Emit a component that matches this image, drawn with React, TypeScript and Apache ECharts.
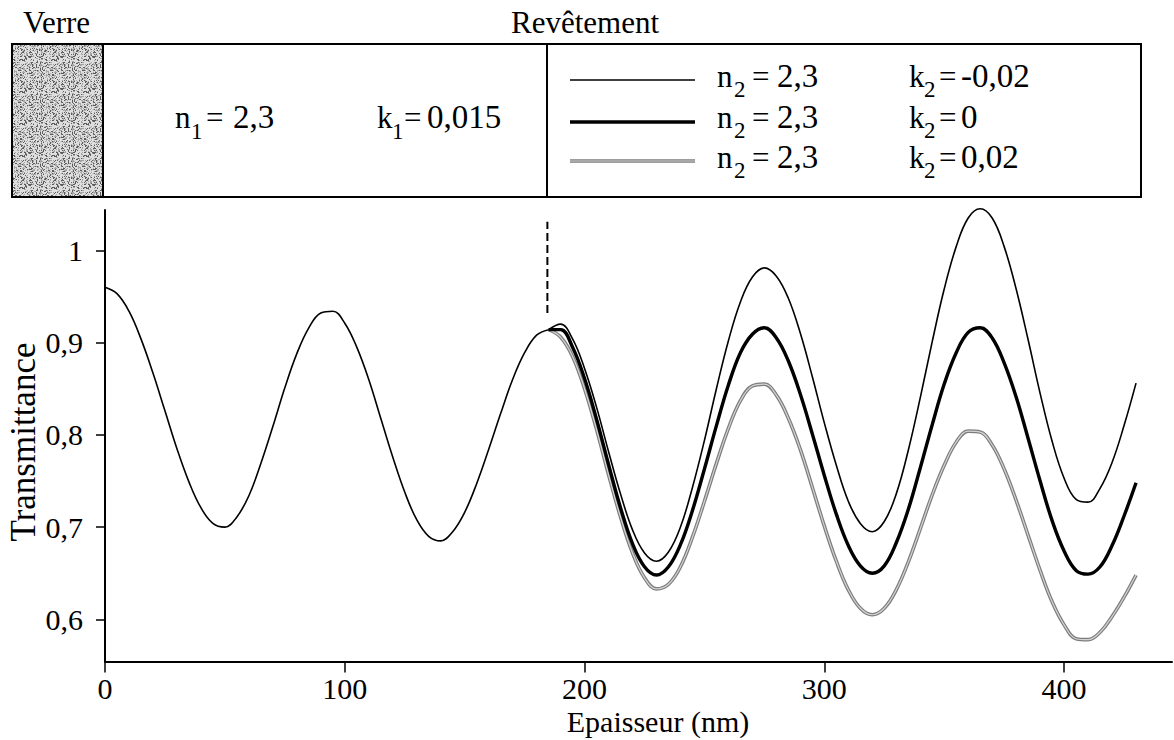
import React, { useEffect, useRef } from "react";
import * as echarts from "echarts";

const FONT = "Liberation Serif";

// ---- data ----
const baseThickness = [0, 5, 10, 15, 20, 25, 30, 35, 40, 45, 50, 55, 60, 65, 70, 75, 80, 85, 90, 95, 100, 105, 110, 115, 120, 125, 130, 135, 140, 145, 150, 155, 160, 165, 170, 175, 180, 185];
const baseT = [0.960, 0.953, 0.934, 0.904, 0.867, 0.826, 0.785, 0.749, 0.721, 0.704, 0.700, 0.711, 0.734, 0.769, 0.809, 0.851, 0.888, 0.916, 0.932, 0.934, 0.921, 0.895, 0.860, 0.818, 0.776, 0.738, 0.708, 0.690, 0.685, 0.695, 0.716, 0.747, 0.784, 0.823, 0.860, 0.889, 0.908, 0.914];

const branchThickness = [185, 190, 195, 200, 205, 210, 215, 220, 225, 230, 235, 240, 245, 250, 255, 260, 265, 270, 275, 280, 285, 290, 295, 300, 305, 310, 315, 320, 325, 330, 335, 340, 345, 350, 355, 360, 365, 370, 375, 380, 385, 390, 395, 400, 405, 410, 415, 420, 425, 430];
// k2 = -0,02
const tKminus = [0.914, 0.920, 0.904, 0.872, 0.830, 0.782, 0.736, 0.697, 0.672, 0.663, 0.673, 0.700, 0.743, 0.794, 0.850, 0.902, 0.944, 0.971, 0.981, 0.972, 0.948, 0.910, 0.863, 0.813, 0.767, 0.728, 0.704, 0.695, 0.706, 0.736, 0.783, 0.840, 0.901, 0.958, 1.004, 1.035, 1.045, 1.035, 1.004, 0.958, 0.903, 0.845, 0.793, 0.753, 0.730, 0.727, 0.742, 0.770, 0.810, 0.856];
// k2 = 0
const tKzero = [0.914, 0.914, 0.895, 0.861, 0.817, 0.768, 0.721, 0.682, 0.657, 0.648, 0.657, 0.681, 0.718, 0.763, 0.810, 0.854, 0.889, 0.909, 0.916, 0.905, 0.880, 0.844, 0.801, 0.756, 0.714, 0.680, 0.658, 0.650, 0.658, 0.683, 0.719, 0.764, 0.811, 0.855, 0.889, 0.911, 0.916, 0.905, 0.878, 0.841, 0.796, 0.750, 0.707, 0.674, 0.653, 0.649, 0.657, 0.680, 0.712, 0.748];
// k2 = 0,02
const tKplus = [0.914, 0.906, 0.885, 0.850, 0.806, 0.757, 0.711, 0.672, 0.645, 0.633, 0.638, 0.657, 0.689, 0.728, 0.769, 0.807, 0.837, 0.853, 0.855, 0.843, 0.818, 0.784, 0.743, 0.701, 0.663, 0.632, 0.612, 0.605, 0.612, 0.632, 0.662, 0.698, 0.735, 0.767, 0.792, 0.804, 0.803, 0.789, 0.763, 0.729, 0.691, 0.653, 0.619, 0.594, 0.579, 0.578, 0.586, 0.603, 0.624, 0.648];

const dashThickness = [184.5, 184.5];
const dashT = [0.932, 1.031];

const xTicks = [0, 100, 200, 300, 400];
const yTicks = [0.6, 0.7, 0.8, 0.9, 1];

const headerLeft = "Verre";
const headerRight = "Revêtement";
const xTitle = "Epaisseur (nm)";
const yTitle = "Transmittance";
const legendN = ["2,3", "2,3", "2,3"];
const legendK = ["-0,02", "0", "0,02"];

const pairs = (xs: number[], ys: number[]) => xs.map((x, i) => [x, ys[i]]);

const txt = (text: string, x: number, baseline: number, size: number, align: string = "left") => ({
  type: "text",
  x,
  y: baseline - 0.3375 * size,
  silent: true,
  style: {
    text,
    x: 0,
    y: 0,
    font: `${size}px ${FONT}`,
    lineHeight: Math.round(size * 0.85),
    fill: "#000",
    align,
    verticalAlign: "middle",
    textAlign: align,
    textVerticalAlign: "middle",
  },
});

const hline = (x1: number, x2: number, y: number, color: string, w: number) => ({
  type: "line",
  silent: true,
  shape: { x1, y1: y, x2, y2: y },
  style: { stroke: color, lineWidth: w },
});

// decorative speckled texture for the glass block
const makeTexture = () => {
  const c = document.createElement("canvas");
  c.width = 32;
  c.height = 32;
  const g = c.getContext("2d");
  if (!g) return null;
  g.fillStyle = "#dedede";
  g.fillRect(0, 0, 32, 32);
  for (let y = 0; y < 32; y++) {
    for (let x = 0; x < 32; x++) {
      const h = (((x * 73856093) ^ (y * 19349663) ^ ((x + y) * 83492791)) >>> 0) % 1000;
      if (h < 180) {
        g.fillStyle = "#5c5c5c";
        g.fillRect(x, y, 1, 1);
      } else if (h < 390) {
        g.fillStyle = "#a6a6a6";
        g.fillRect(x, y, 1, 1);
      }
    }
  }
  return c;
};

export default function App() {
  const ref = useRef<HTMLDivElement>(null);

  useEffect(() => {
    if (!ref.current) return;
    const chart = echarts.init(ref.current, undefined, { renderer: "svg" });

    const S = 30; // axis text size
    const H = 31; // header text size
    const V = 33; // header value size
    const SUB = 23; // subscript size

    const tex = makeTexture();

    const graphic: any[] = [
      txt(headerLeft, 23, 33, H),
      txt(headerRight, 585, 33, H, "center"),
      {
        type: "rect",
        silent: true,
        shape: { x: 12, y: 44, width: 91, height: 153 },
        style: { fill: "#bdbdbd", stroke: "#000", lineWidth: 2 },
      },
    ];
    if (tex) {
      graphic.push({
        type: "rect",
        silent: true,
        shape: { x: 13, y: 45, width: 89, height: 151 },
        style: { fill: { image: tex, repeat: "repeat" } as any, stroke: "none" },
      });
    }
    graphic.push(
      {
        type: "rect",
        silent: true,
        shape: { x: 12, y: 44, width: 1129, height: 153 },
        style: { fill: "none", stroke: "#000", lineWidth: 2 },
      },
      {
        type: "line",
        silent: true,
        shape: { x1: 103, y1: 44, x2: 103, y2: 197 },
        style: { stroke: "#000", lineWidth: 2 },
      },
      {
        type: "line",
        silent: true,
        shape: { x1: 547, y1: 44, x2: 547, y2: 197 },
        style: { stroke: "#000", lineWidth: 2 },
      },
      // n1 = 2,3   k1 = 0,015
      txt("n", 175, 128, H),
      txt("1", 191, 139, SUB),
      txt("=", 206, 128, H),
      txt("2,3", 233, 128, V),
      txt("k", 377, 128, H),
      txt("1", 392, 139, SUB),
      txt("=", 404, 128, H),
      txt("0,015", 427, 128, V),
      // legend line samples
      hline(570, 695, 80, "#000", 1.6),
      hline(570, 695, 122, "#000", 3.4),
      hline(570, 695, 161, "#7d7d7d", 3.6),
      hline(570, 695, 161, "#d4d4d4", 1.2)
    );
    const baselines = [87, 128, 168];
    baselines.forEach((b, i) => {
      graphic.push(txt("n", 717, b, H));
      graphic.push(txt("2", 734, b + 10, SUB));
      graphic.push(txt("=", 752, b, H));
      graphic.push(txt(legendN[i], 777, b, V));
      graphic.push(txt("k", 909, b, H));
      graphic.push(txt("2", 924, b + 10, SUB));
      graphic.push(txt("=", 939, b, H));
      graphic.push(txt(legendK[i], 961, b, V));
    });
    graphic.push(txt(xTitle, 658, 732, S, "center"));
    graphic.push({
      type: "text",
      x: 23,
      y: 442,
      rotation: Math.PI / 2,
      silent: true,
      style: {
        text: yTitle,
        x: 0,
        y: 0,
        font: `35px ${FONT}`,
        fill: "#000",
        align: "center",
        verticalAlign: "middle",
        textAlign: "center",
        textVerticalAlign: "middle",
      },
    });

    const lineBase = {
      type: "line",
      showSymbol: false,
      symbol: "none",
      smooth: 0.4,
      silent: true,
      clip: false,
    };

    const option: any = {
      animation: false,
      backgroundColor: "#fff",
      textStyle: { fontFamily: FONT },
      grid: { left: 105, right: 2, top: 210, bottom: 78.5, containLabel: false },
      xAxis: {
        type: "value",
        min: 0,
        max: 445,
        axisLine: { show: true, lineStyle: { color: "#000", width: 2 } },
        axisTick: { show: true, length: 11, customValues: xTicks, lineStyle: { color: "#000", width: 1.5 } },
        axisLabel: {
          customValues: xTicks,
          color: "#000",
          fontSize: S,
          fontFamily: FONT,
          lineHeight: 26,
          margin: 14,
        },
        splitLine: { show: false },
      },
      yAxis: {
        type: "value",
        min: 0.5543,
        max: 1.0437,
        axisLine: { show: true, lineStyle: { color: "#000", width: 2 } },
        axisTick: { show: true, length: 9, customValues: yTicks, lineStyle: { color: "#000", width: 1.5 } },
        axisLabel: {
          customValues: yTicks,
          color: "#000",
          fontSize: S,
          fontFamily: FONT,
          margin: 22,
          formatter: (v: number) => String(v).replace(".", ","),
        },
        splitLine: { show: false },
      },
      series: [
        { ...lineBase, name: "k2=0,02 outer", data: pairs(branchThickness, tKplus), lineStyle: { color: "#7d7d7d", width: 3.6 } },
        { ...lineBase, name: "k2=0,02 inner", data: pairs(branchThickness, tKplus), lineStyle: { color: "#d4d4d4", width: 1.2 } },
        { ...lineBase, name: "k2=0", data: pairs(branchThickness, tKzero), lineStyle: { color: "#000", width: 3.4 } },
        { ...lineBase, name: "k2=-0,02", data: pairs(branchThickness, tKminus), lineStyle: { color: "#000", width: 1.6 } },
        { ...lineBase, name: "verre", data: pairs(baseThickness, baseT), lineStyle: { color: "#000", width: 1.6 } },
        {
          ...lineBase,
          smooth: false,
          name: "limite",
          data: pairs(dashThickness, dashT),
          lineStyle: { color: "#000", width: 2, type: [8, 4] },
        },
      ],
      graphic,
    };

    chart.setOption(option);
    return () => chart.dispose();
  }, []);

  return (
    <div
      ref={ref}
      style={{ position: "absolute", left: 0, top: 0, width: 1174, height: 740, background: "#fff" }}
    />
  );
}
